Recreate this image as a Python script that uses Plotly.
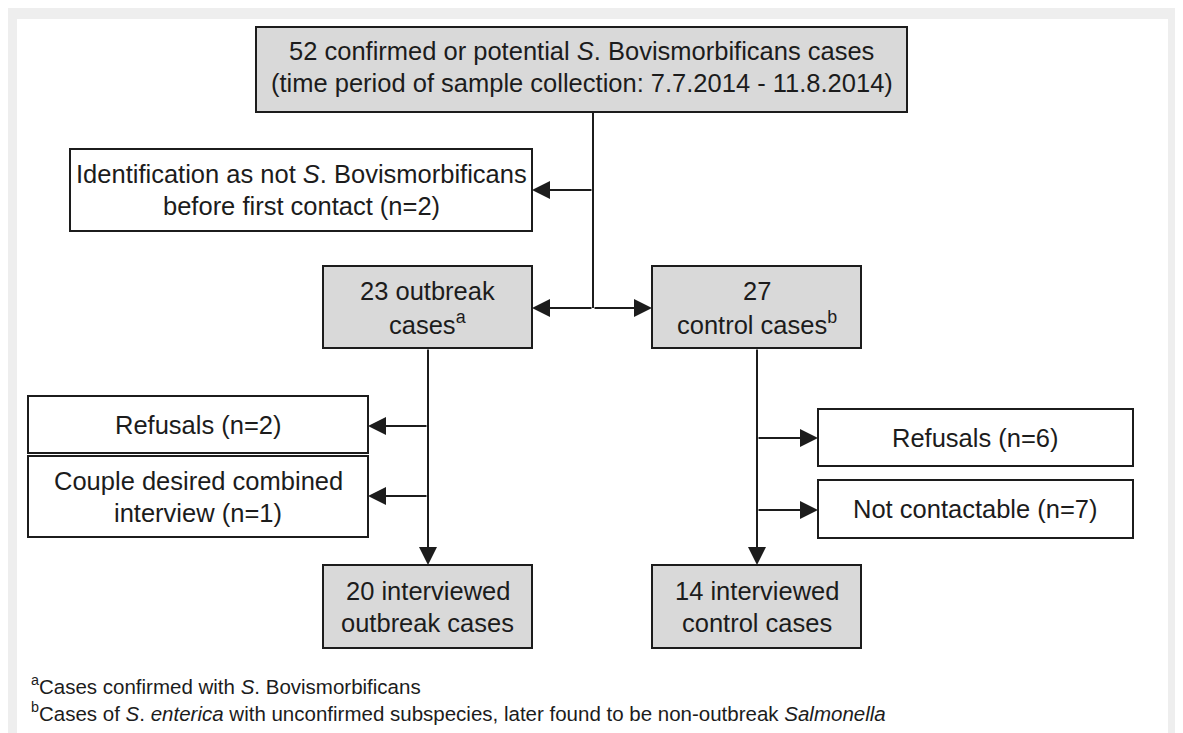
import plotly.graph_objects as go

# ---------------- data ----------------
n_total = 52
n_not_sb = 2
n_outbreak = 23
n_control = 27
n_refusal_outbreak = 2
n_couple = 1
n_interviewed_outbreak = 20
n_refusal_control = 6
n_not_contactable = 7
n_interviewed_control = 14
period_start = "7.7.2014"
period_end = "11.8.2014"

box_names = ["total", "not_sb", "outbreak", "control", "ref_o", "couple",
             "int_o", "ref_c", "notcont", "int_c"]
box_lines = [
    [f"{n_total} confirmed or potential <i>S</i>. Bovismorbificans cases",
     f"(time period of sample collection: {period_start} - {period_end})"],
    ["Identification as not <i>S</i>. Bovismorbificans",
     f"before first contact (n={n_not_sb})"],
    [f"{n_outbreak} outbreak", "cases<sup>a</sup>"],
    [f"{n_control}", "control cases<sup>b</sup>"],
    [f"Refusals (n={n_refusal_outbreak})"],
    ["Couple desired combined", f"interview (n={n_couple})"],
    [f"{n_interviewed_outbreak} interviewed", "outbreak cases"],
    [f"Refusals (n={n_refusal_control})"],
    [f"Not contactable (n={n_not_contactable})"],
    [f"{n_interviewed_control} interviewed", "control cases"],
]
footnotes = [
    "<sup>a</sup>Cases confirmed with <i>S</i>. Bovismorbificans",
    "<sup>b</sup>Cases of <i>S</i>. <i>enterica</i> with unconfirmed subspecies, later found to be non-outbreak <i>Salmonella</i>",
]

# ---------------- layout geometry (page pixels) ----------------
OFF = 8                 # page offset of the figure (body margin)
W, H = 1172, 725        # figure size
geom = {
    "total":    (256, 27, 907, 112, True),
    "not_sb":   (70, 149, 532, 231, False),
    "outbreak": (323, 266, 532, 348, True),
    "control":  (652, 266, 861, 348, True),
    "ref_o":    (28, 396, 368, 453, False),
    "couple":   (28, 456, 368, 537, False),
    "int_o":    (323, 565, 532, 648, True),
    "ref_c":    (818, 409, 1133, 466, False),
    "notcont":  (818, 480, 1133, 538, False),
    "int_c":    (652, 565, 861, 648, True),
}
text_dy = {"total": -3}
# connectors: plain lines and arrows (tail -> head)
lines = [((593, 112), (593, 308))]
arrows = [
    ((593, 190), (532, 190)),
    ((593, 308), (532, 308)),
    ((593, 308), (652, 308)),
    ((428, 348), (428, 565)),
    ((428, 426), (368, 426)),
    ((428, 496), (368, 496)),
    ((757, 348), (757, 565)),
    ((757, 438), (818, 438)),
    ((757, 510), (818, 510)),
]

INK = "#1c1c1c"
GRAY = "#d9d9d9"
FONT = "Liberation Sans, Arial, sans-serif"
FS = 25.5
LINE_GAP = 32

fig = go.Figure()
shapes = []
annotations = []

# white panel on grey frame
shapes.append(dict(type="rect", xref="x", yref="y", x0=17, y0=19, x1=1168, y1=OFF + H + 5,
                   fillcolor="white", line=dict(width=0), layer="below"))

for name, lns in zip(box_names, box_lines):
    x0, y0, x1, y1, filled = geom[name]
    shapes.append(dict(type="rect", xref="x", yref="y", x0=x0, y0=y0, x1=x1, y1=y1,
                       fillcolor=GRAY if filled else "white",
                       line=dict(color=INK, width=2)))
    cx, cy = (x0 + x1) / 2, (y0 + y1) / 2 + text_dy.get(name, 0)
    k = len(lns)
    for i, t in enumerate(lns):
        yy = cy + (i - (k - 1) / 2) * LINE_GAP
        annotations.append(dict(x=cx, y=yy, xref="x", yref="y", text=t, showarrow=False,
                                xanchor="center", yanchor="middle",
                                font=dict(family=FONT, size=FS, color=INK)))

for (p, q) in lines:
    shapes.append(dict(type="line", xref="x", yref="y", x0=p[0], y0=p[1], x1=q[0], y1=q[1],
                       line=dict(color=INK, width=2)))

for (tail, head) in arrows:
    annotations.append(dict(x=head[0], y=head[1], ax=tail[0], ay=tail[1],
                            xref="x", yref="y", axref="x", ayref="y",
                            text="", showarrow=True, arrowhead=2, arrowsize=1.8,
                            arrowwidth=2, arrowcolor=INK, standoff=0, startstandoff=0))

for i, t in enumerate(footnotes):
    annotations.append(dict(x=29, y=685 + i * 27, xref="x", yref="y", text=t, showarrow=False,
                            xanchor="left", yanchor="middle",
                            font=dict(family=FONT, size=20.5, color=INK)))

fig.update_layout(
    width=W, height=H,
    margin=dict(l=0, r=0, t=0, b=0),
    paper_bgcolor="#eeeeee", plot_bgcolor="#eeeeee",
    xaxis=dict(range=[OFF, OFF + W], visible=False, fixedrange=True),
    yaxis=dict(range=[OFF + H, OFF], visible=False, fixedrange=True),
    shapes=shapes, annotations=annotations, showlegend=False,
)
fig.write_html("out.html")
